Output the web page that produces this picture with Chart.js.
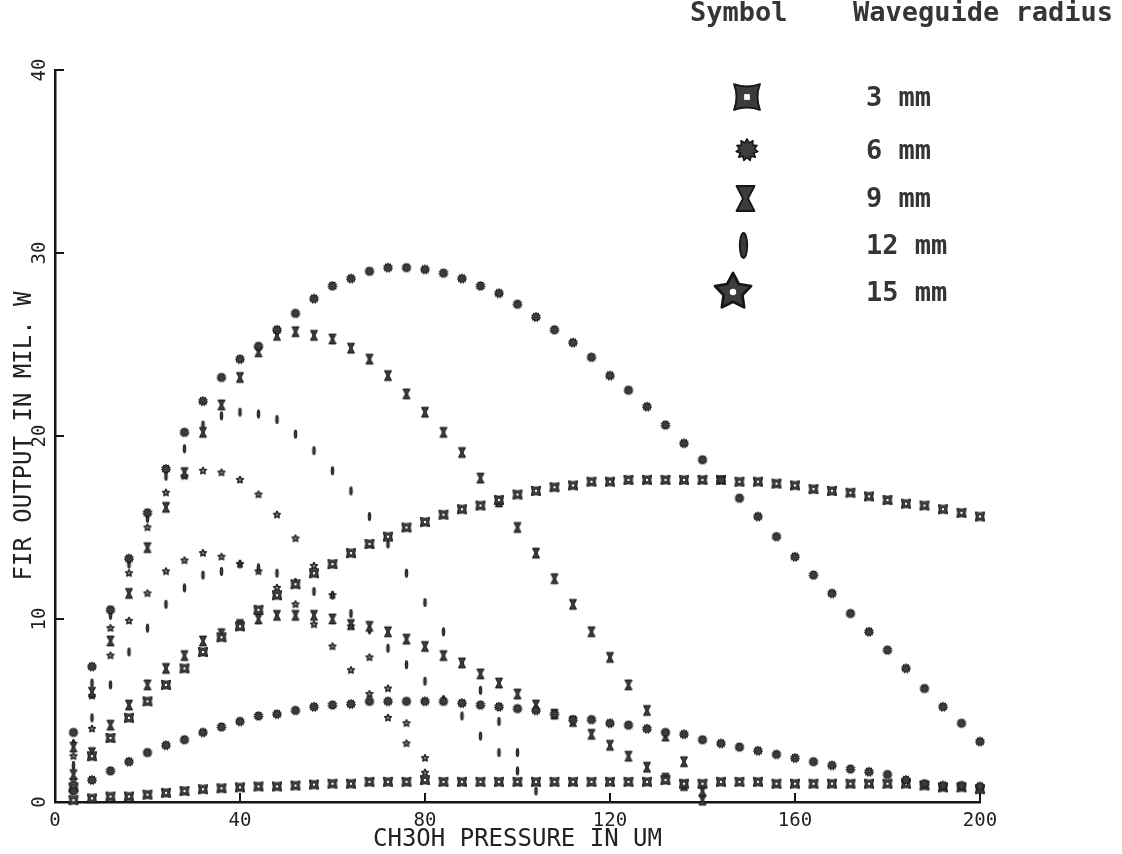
<!DOCTYPE html>
<html>
<head>
<meta charset="utf-8">
<title>FIR output vs CH3OH pressure</title>
<script src="https://cdn.jsdelivr.net/npm/chart.js@4.4.1/dist/chart.umd.min.js"></script>
<style>
  html, body { margin: 0; padding: 0; background: #fff; }
  #wrap { position: relative; width: 1122px; height: 854px; overflow: hidden; }
  #chart { position: absolute; left: 0; top: 0; }
  .lg { position: absolute; font-family: "DejaVu Sans Mono", monospace; font-weight: bold;
        font-size: 27px; color: #353535; white-space: pre; line-height: 30px; transform: translateY(-50%); }
  .lg-sym { position: absolute; }
</style>
</head>
<body>
<div id="wrap">
  <canvas id="chart" width="1122" height="854"></canvas>
  <div id="legend"></div>
</div>
<script>
(function () {
  'use strict';

  // CH3OH pressure (um), points every 4 um
  var pressure = [4, 8, 12, 16, 20, 24, 28, 32, 36, 40,
    44, 48, 52, 56, 60, 64, 68, 72, 76, 80,
    84, 88, 92, 96, 100, 104, 108, 112, 116, 120,
    124, 128, 132, 136, 140, 144, 148, 152, 156, 160,
    164, 168, 172, 176, 180, 184, 188, 192, 196, 200];

  // FIR output (mW), two line sets per waveguide radius
  var r3Upper = [0.8, 2.5, 3.5, 4.6, 5.5, 6.4, 7.3, 8.2, 9.0, 9.6,
    10.5, 11.3, 11.9, 12.5, 13.0, 13.6, 14.1, 14.5, 15.0, 15.3,
    15.7, 16.0, 16.2, 16.5, 16.8, 17.0, 17.2, 17.3, 17.5, 17.5,
    17.6, 17.6, 17.6, 17.6, 17.6, 17.6, 17.5, 17.5, 17.4, 17.3,
    17.1, 17.0, 16.9, 16.7, 16.5, 16.3, 16.2, 16.0, 15.8, 15.6];
  var r3Lower = [0.1, 0.2, 0.3, 0.3, 0.4, 0.5, 0.6, 0.7, 0.75, 0.8,
    0.85, 0.85, 0.9, 0.95, 1.0, 1.0, 1.1, 1.1, 1.1, 1.2,
    1.1, 1.1, 1.1, 1.1, 1.1, 1.1, 1.1, 1.1, 1.1, 1.1,
    1.1, 1.1, 1.2, 1.0, 1.0, 1.1, 1.1, 1.1, 1.0, 1.0,
    1.0, 1.0, 1.0, 1.0, 1.0, 1.0, 0.9, 0.8, 0.8, 0.7];
  var r6Upper = [3.8, 7.4, 10.5, 13.3, 15.8, 18.2, 20.2, 21.9, 23.2, 24.2,
    24.9, 25.8, 26.7, 27.5, 28.2, 28.6, 29.0, 29.2, 29.2, 29.1,
    28.9, 28.6, 28.2, 27.8, 27.2, 26.5, 25.8, 25.1, 24.3, 23.3,
    22.5, 21.6, 20.6, 19.6, 18.7, 17.6, 16.6, 15.6, 14.5, 13.4,
    12.4, 11.4, 10.3, 9.3, 8.3, 7.3, 6.2, 5.2, 4.3, 3.3];
  var r6Lower = [0.6, 1.2, 1.7, 2.2, 2.7, 3.1, 3.4, 3.8, 4.1, 4.4,
    4.7, 4.8, 5.0, 5.2, 5.3, 5.35, 5.5, 5.5, 5.5, 5.5,
    5.5, 5.4, 5.3, 5.2, 5.1, 5.0, 4.8, 4.5, 4.5, 4.3,
    4.2, 4.0, 3.8, 3.7, 3.4, 3.2, 3.0, 2.8, 2.6, 2.4,
    2.2, 2.0, 1.8, 1.65, 1.5, 1.2, 1.0, 0.9, 0.9, 0.85];
  var r9Upper = [3.0, 6.0, 8.8, 11.4, 13.9, 16.1, 18.0, 20.2, 21.7, 23.2,
    24.6, 25.5, 25.7, 25.5, 25.3, 24.8, 24.2, 23.3, 22.3, 21.3,
    20.2, 19.1, 17.7, 16.4, 15.0, 13.6, 12.2, 10.8, 9.3, 7.9,
    6.4, 5.0, 3.6, 2.2, 0.6];
  var r9Lower = [1.5, 2.7, 4.2, 5.3, 6.4, 7.3, 8.0, 8.8, 9.2, 9.7,
    10.0, 10.2, 10.2, 10.2, 10.0, 9.7, 9.6, 9.3, 8.9, 8.5,
    8.0, 7.6, 7.0, 6.5, 5.9, 5.3, 4.8, 4.4, 3.7, 3.1,
    2.5, 1.9, 1.3, 0.9, 0.1];
  var r12Upper = [3.2, 6.5, 10.2, 13.0, 15.5, 17.8, 19.3, 20.6, 21.1, 21.3,
    21.2, 20.9, 20.1, 19.2, 18.1, 17.0, 15.6, 14.1, 12.5, 10.9,
    9.3, 7.6, 6.1, 4.4, 2.7, 0.6];
  var r12Lower = [2.0, 4.6, 6.4, 8.2, 9.5, 10.8, 11.7, 12.4, 12.6, 13.0,
    12.8, 12.5, 12.0, 11.5, 11.3, 10.3, 9.4, 8.4, 7.5, 6.6,
    5.6, 4.7, 3.6, 2.7, 1.7];
  var r15Upper = [2.5, 5.8, 9.5, 12.5, 15.0, 16.9, 17.8, 18.1, 18.0, 17.6,
    16.8, 15.7, 14.4, 12.9, 11.3, 9.6, 7.9, 6.2, 4.3, 1.6];
  var r15Lower = [1.2, 4.0, 8.0, 9.9, 11.4, 12.6, 13.2, 13.6, 13.4, 13.0,
    12.6, 11.7, 10.8, 9.7, 8.5, 7.2, 5.9, 4.6, 3.2, 2.4];

  var xTicks = [0, 40, 80, 120, 160, 200];
  var yTicks = [0, 10, 20, 30, 40];
  var radiusLabels = ['3 mm', '6 mm', '9 mm', '12 mm', '15 mm'];
  var symbolKinds = ['r3', 'r6', 'r9', 'r12', 'r15'];

  var INK = '#161616';
  var MARK_FILL = '#3c3c3c';
  var TEXT = '#222';
  var FONT = '"DejaVu Sans Mono", monospace';

  function starPath(g, n, outer, inner, rot) {
    for (var i = 0; i < 2 * n; i++) {
      var r = i % 2 === 0 ? outer : inner;
      var a = rot + i * Math.PI / n;
      var px = Math.cos(a) * r, py = Math.sin(a) * r;
      if (i === 0) g.moveTo(px, py); else g.lineTo(px, py);
    }
    g.closePath();
  }

  function drawSymbol(g, kind, s) {
    g.fillStyle = MARK_FILL;
    g.strokeStyle = INK;
    g.lineWidth = Math.max(1, s / 7);
    g.lineJoin = 'round';
    g.beginPath();
    if (kind === 'r3') {
      // square with concave sides and pointed corners, hollow centre
      var k = 0.62 * s;
      g.moveTo(-s, -s);
      g.quadraticCurveTo(0, -k, s, -s);
      g.quadraticCurveTo(k, 0, s, s);
      g.quadraticCurveTo(0, k, -s, s);
      g.quadraticCurveTo(-k, 0, -s, -s);
      g.closePath();
      g.fill(); g.stroke();
      g.fillStyle = '#fff';
      g.fillRect(-0.22 * s, -0.22 * s, 0.44 * s, 0.44 * s);
    } else if (kind === 'r6') {
      starPath(g, 11, s, 0.68 * s, -Math.PI / 2);
      g.fill(); g.stroke();
    } else if (kind === 'r9') {
      g.moveTo(-0.72 * s, -s);
      g.lineTo(0.72 * s, -s);
      g.lineTo(0.2 * s, 0);
      g.lineTo(0.72 * s, s);
      g.lineTo(-0.72 * s, s);
      g.lineTo(-0.2 * s, 0);
      g.closePath();
      g.fill(); g.stroke();
    } else if (kind === 'r12') {
      g.ellipse(0, 0, 0.3 * s, s, 0, 0, Math.PI * 2);
      g.fill(); g.stroke();
    } else {
      starPath(g, 5, s, 0.52 * s, -Math.PI / 2);
      g.fill(); g.stroke();
      g.beginPath();
      g.fillStyle = '#fff';
      g.arc(0, 0, 0.17 * s, 0, Math.PI * 2);
      g.fill();
    }
  }

  function makeSymbol(kind, s) {
    var size = Math.ceil(2 * s + 4);
    var c = document.createElement('canvas');
    c.width = size;
    c.height = size;
    var g = c.getContext('2d');
    g.translate(size / 2, size / 2);
    drawSymbol(g, kind, s);
    return c;
  }

  var plotSize = { r3: 4.6, r6: 4.7, r9: 4.9, r12: 4.4, r15: 4.0 };
  var plotMarks = {};
  symbolKinds.forEach(function (k) { plotMarks[k] = makeSymbol(k, plotSize[k]); });

  function points(values) {
    return values.map(function (v, i) { return { x: pressure[i], y: v }; });
  }

  function series(label, values, kind) {
    return {
      label: label,
      data: points(values),
      pointStyle: plotMarks[kind],
      showLine: false,
      clip: false
    };
  }

  var datasets = [
    series('6 mm a', r6Upper, 'r6'),
    series('6 mm b', r6Lower, 'r6'),
    series('3 mm a', r3Upper, 'r3'),
    series('3 mm b', r3Lower, 'r3'),
    series('9 mm a', r9Upper, 'r9'),
    series('9 mm b', r9Lower, 'r9'),
    series('12 mm a', r12Upper, 'r12'),
    series('12 mm b', r12Lower, 'r12'),
    series('15 mm a', r15Upper, 'r15'),
    series('15 mm b', r15Lower, 'r15')
  ];

  var inwardTicks = {
    id: 'inwardTicks',
    afterDraw: function (chart) {
      var ctx = chart.ctx;
      var a = chart.chartArea;
      var xs = chart.scales.x, ys = chart.scales.y;
      ctx.save();
      ctx.strokeStyle = INK;
      ctx.lineWidth = 2;
      ctx.beginPath();
      xTicks.forEach(function (v) {
        var px = xs.getPixelForValue(v);
        ctx.moveTo(px, a.bottom);
        ctx.lineTo(px, a.bottom - 9);
      });
      yTicks.forEach(function (v) {
        var py = ys.getPixelForValue(v);
        ctx.moveTo(a.left, py);
        ctx.lineTo(a.left + 9, py);
      });
      ctx.stroke();
      ctx.restore();
    }
  };

  Chart.defaults.font.family = FONT;
  Chart.defaults.color = TEXT;

  new Chart(document.getElementById('chart'), {
    type: 'scatter',
    data: { datasets: datasets },
    options: {
      responsive: false,
      animation: false,
      layout: { padding: { left: 0, right: 142, top: 70, bottom: 0 } },
      plugins: { legend: { display: false }, tooltip: { enabled: false } },
      scales: {
        x: {
          type: 'linear',
          min: 0,
          max: 200,
          afterFit: function (s) { s.height = 52; },
          afterBuildTicks: function (s) { s.ticks = xTicks.map(function (v) { return { value: v }; }); },
          grid: { display: true, drawOnChartArea: false, drawTicks: false },
          border: { display: true, color: INK, width: 2.5 },
          ticks: { padding: 8, font: { size: 19 }, color: TEXT },
          title: { display: true, text: 'CH3OH PRESSURE IN UM', font: { size: 24 }, color: TEXT,
                   padding: { top: 0, bottom: 0 } }
        },
        y: {
          type: 'linear',
          min: 0,
          max: 40,
          afterFit: function (s) { s.width = 55; },
          afterBuildTicks: function (s) { s.ticks = yTicks.map(function (v) { return { value: v }; }); },
          grid: { display: true, drawOnChartArea: false, drawTicks: false },
          border: { display: true, color: INK, width: 2.5 },
          ticks: { padding: 3, font: { size: 19 }, color: TEXT, minRotation: 90, maxRotation: 90, crossAlign: 'center' },
          title: { display: true, text: 'FIR OUTPUT IN MIL. W', font: { size: 24 }, color: TEXT,
                   padding: { top: 10, bottom: 0 } }
        }
      }
    },
    plugins: [inwardTicks]
  });

  // legend block (top right)
  var legend = document.getElementById('legend');
  function addText(text, left, cy) {
    var d = document.createElement('div');
    d.className = 'lg';
    d.textContent = text;
    d.style.left = left + 'px';
    d.style.top = cy + 'px';
    legend.appendChild(d);
  }
  addText('Symbol', 690, 12);
  addText('Waveguide radius', 853, 12);

  var legendRows = [97, 150, 198, 245, 292];
  var legendSize = { r3: 13, r6: 11, r9: 12.5, r12: 12.5, r15: 19 };
  var legendX = { r3: 747, r6: 747, r9: 745, r12: 743, r15: 733 };
  symbolKinds.forEach(function (k, i) {
    var c = makeSymbol(k, legendSize[k]);
    c.className = 'lg-sym';
    c.style.left = (legendX[k] - c.width / 2) + 'px';
    c.style.top = (legendRows[i] - c.height / 2) + 'px';
    legend.appendChild(c);
    addText(radiusLabels[i], 866, legendRows[i]);
  });
})();
</script>
</body>
</html>
